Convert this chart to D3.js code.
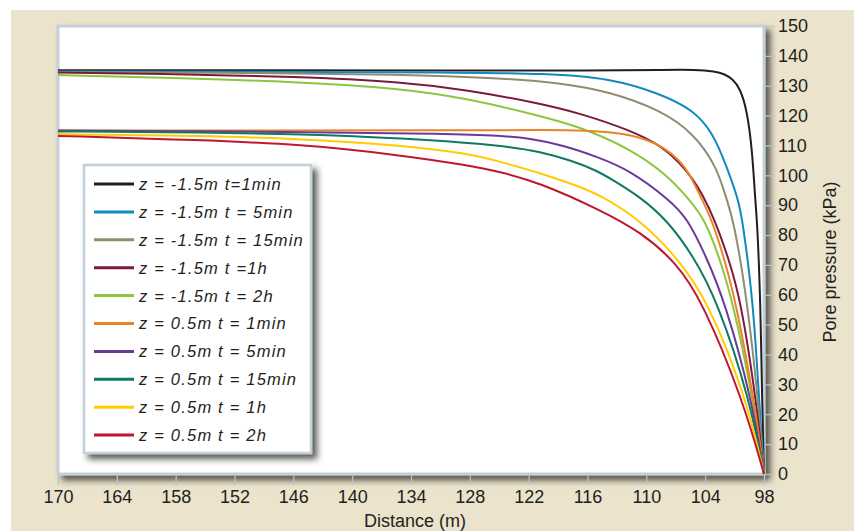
<!DOCTYPE html>
<html>
<head>
<meta charset="utf-8">
<script src="https://cdn.jsdelivr.net/npm/d3@7"></script>
<style>
  body { margin: 0; background: #fff; }
  svg { display: block; font-family: 'Liberation Sans', Arial, Helvetica, sans-serif; }
</style>
</head>
<body>
<div id="chart"></div>
<script>
// ---- data: [distance (m), pore pressure (kPa)] ----
const zm15_1min = [[170,135.2],[150,135.2],[130,135.1],[115,135.1],[108,135.3],[105,135.4],[103,134.8],[102,133.9],[101.2,132.2],[100.45,129.2],[99.74,121.9],[99.2,108.5],[98.9,91.7],[98.7,85],[98.36,58],[98.2,24.8],[98,0]];
const zm15_5min = [[170,134.8],[150,134.7],[130,134.5],[120,134.1],[113.7,132.5],[108.6,127.4],[105.2,121.9],[103.2,114.2],[101.8,102.9],[100.6,91.7],[100.2,85],[99.1,58],[98.5,24.8],[98,0]];
const zm15_15min = [[170,134.6],[150,134.3],[135,133.8],[125,132.6],[118.8,131],[113.7,128],[108.6,121.9],[105.2,114.2],[102.8,102.9],[101.8,91.7],[101.1,85],[99.7,58],[98.6,24.8],[98,0]];
const zm15_1h = [[170,134.4],[160,134],[145.3,133],[135.1,131.3],[128.3,128.6],[120.85,124.1],[116.8,120.8],[111.7,115.2],[108.3,109.6],[106.6,104.1],[105.3,99],[104.3,93.7],[103,85],[101.6,72],[100.35,58],[98.8,24.8],[98,0]];
const zm15_2h = [[170,133.6],[160,132.8],[145.3,131.3],[135.1,129.1],[128.3,125.8],[120.85,119.9],[116.8,116.3],[111.7,109],[108,100.5],[105.55,91.7],[104,85],[102.5,72],[101.2,58],[99.1,24.8],[98,0]];
const z05_1min = [[170,115],[150,115],[130,115.1],[120,115.2],[116,115],[113.5,114.4],[111.7,113.5],[110,112],[108.3,109.5],[106.6,105.1],[105.5,100],[104.3,91.7],[103.3,85],[102,71.5],[100.9,58],[99,24.8],[98,0]];
const z05_5min = [[170,115],[145.3,114.6],[130,113.9],[124.9,113.3],[121.9,112.4],[118.5,110.1],[115,106.2],[111.7,101.8],[107.6,91.7],[105.8,85.5],[104,73.5],[102,58],[99.23,24.8],[98,0]];
const z05_15min = [[170,114.7],[155,114.4],[145.3,113.8],[135,112.5],[124.9,110.1],[120.85,108],[117.5,104.8],[115,101.5],[113.4,98.4],[110.6,92.7],[107.9,85],[105.3,73.5],[102.75,58],[99.43,24.8],[98,0]];
const z05_1h = [[170,113.8],[155,113.2],[145.3,112.2],[135.1,110.1],[128.3,107.4],[124.9,104.6],[120.85,100.8],[117,96.5],[114.7,93.4],[110.6,85],[107,73],[103.7,58],[99.74,24.8],[98,0]];
const z05_2h = [[170,113.2],[155.5,111.8],[145.3,110.4],[135.1,106.8],[128.3,103.4],[124.9,101.2],[120.85,97.5],[114.7,88.4],[110.6,81.1],[107,71],[104.3,58],[100.15,24.8],[98,0]];

const seriesData = [zm15_1min, zm15_5min, zm15_15min, zm15_1h, zm15_2h, z05_1min, z05_5min, z05_15min, z05_1h, z05_2h];
const seriesLabels = [
  'z = -1.5m t=1min', 'z = -1.5m t = 5min', 'z = -1.5m t = 15min', 'z = -1.5m t =1h', 'z = -1.5m t = 2h',
  'z = 0.5m t = 1min', 'z = 0.5m t = 5min', 'z = 0.5m t = 15min', 'z = 0.5m t = 1h', 'z = 0.5m t = 2h'
];
const seriesColors = ['#231f20', '#1289bf', '#8f8c70', '#7b1b3c', '#8cc63e', '#ea8227', '#6b3a98', '#0e7a61', '#ffcc00', '#bf1730'];
const xTicks = [170, 164, 158, 152, 146, 140, 134, 128, 122, 116, 110, 104, 98];
const yTicks = d3.range(0, 151, 10);

const width = 854, height = 531;
const textColor = '#231f20';
const frameColor = '#c4d0d9';

const svg = d3.select('#chart').append('svg')
  .attr('width', width)
  .attr('height', height);

const defs = svg.append('defs');
defs.append('filter').attr('id', 'shadow')
  .attr('x', '-5%').attr('y', '-5%').attr('width', '115%').attr('height', '115%')
  .append('feDropShadow')
  .attr('dx', 5).attr('dy', 5).attr('stdDeviation', 3)
  .attr('flood-color', '#2a2a22').attr('flood-opacity', 0.75);

// beige panel
svg.append('rect')
  .attr('x', 11).attr('y', 10)
  .attr('width', width - 11).attr('height', height - 10)
  .attr('fill', '#ebe3cc');

const x = d3.scaleLinear().domain([170, 98]).range([58, 764]);
const y = d3.scaleLinear().domain([0, 150]).range([474, 26]);

// plot frame
svg.append('rect')
  .attr('x', x(170)).attr('y', y(150))
  .attr('width', x(98) - x(170)).attr('height', y(0) - y(150))
  .attr('fill', '#fff')
  .attr('stroke', frameColor)
  .attr('stroke-width', 3)
  .attr('filter', 'url(#shadow)');

// axes
const yAxis = svg.append('g')
  .attr('transform', `translate(${x(98)},0)`)
  .call(d3.axisRight(y).tickValues(yTicks).tickSize(11).tickPadding(3));

const xAxis = svg.append('g')
  .attr('transform', `translate(0,${y(0)})`)
  .call(d3.axisBottom(x).tickValues(xTicks).tickSize(11).tickPadding(5));

[xAxis, yAxis].forEach((ax) => {
  ax.select('.domain').remove();
  ax.selectAll('.tick line').attr('stroke', '#b5c6d3').attr('stroke-width', 1.2);
  ax.selectAll('.tick text')
    .attr('fill', textColor)
    .attr('font-size', 18)
    .attr('font-family', "'Liberation Sans', Arial, sans-serif");
});

// axis titles
svg.append('text')
  .attr('x', 415).attr('y', 527)
  .attr('text-anchor', 'middle')
  .attr('font-size', 18)
  .attr('fill', textColor)
  .text('Distance (m)');

svg.append('text')
  .attr('transform', 'translate(836,262) rotate(-90)')
  .attr('text-anchor', 'middle')
  .attr('font-size', 18)
  .attr('fill', textColor)
  .text('Pore pressure (kPa)');

// curves - basis smooths the small reading errors between points
const line = d3.line()
  .x((d) => x(d[0]))
  .y((d) => y(d[1]))
  .curve(d3.curveBasis);

svg.append('g')
  .selectAll('path')
  .data(seriesData)
  .join('path')
  .attr('d', line)
  .attr('fill', 'none')
  .attr('stroke', (d, i) => seriesColors[i])
  .attr('stroke-width', 2);

// legend
const legend = svg.append('g');
legend.append('rect')
  .attr('x', 84).attr('y', 165)
  .attr('width', 227).attr('height', 288)
  .attr('fill', '#fff')
  .attr('stroke', frameColor)
  .attr('stroke-width', 2.5)
  .attr('filter', 'url(#shadow)');

const rows = legend.selectAll('g.row')
  .data(seriesLabels)
  .join('g')
  .attr('class', 'row')
  .attr('transform', (d, i) => `translate(0,${184 + i * 27.9})`);

rows.append('line')
  .attr('x1', 94).attr('x2', 134)
  .attr('stroke', (d, i) => seriesColors[i])
  .attr('stroke-width', 3);

rows.append('text')
  .attr('x', 139).attr('dy', '0.36em')
  .attr('font-size', 16.5)
  .attr('font-style', 'italic')
  .attr('letter-spacing', 1.2)
  .attr('fill', textColor)
  .text((d) => d);
</script>
</body>
</html>
